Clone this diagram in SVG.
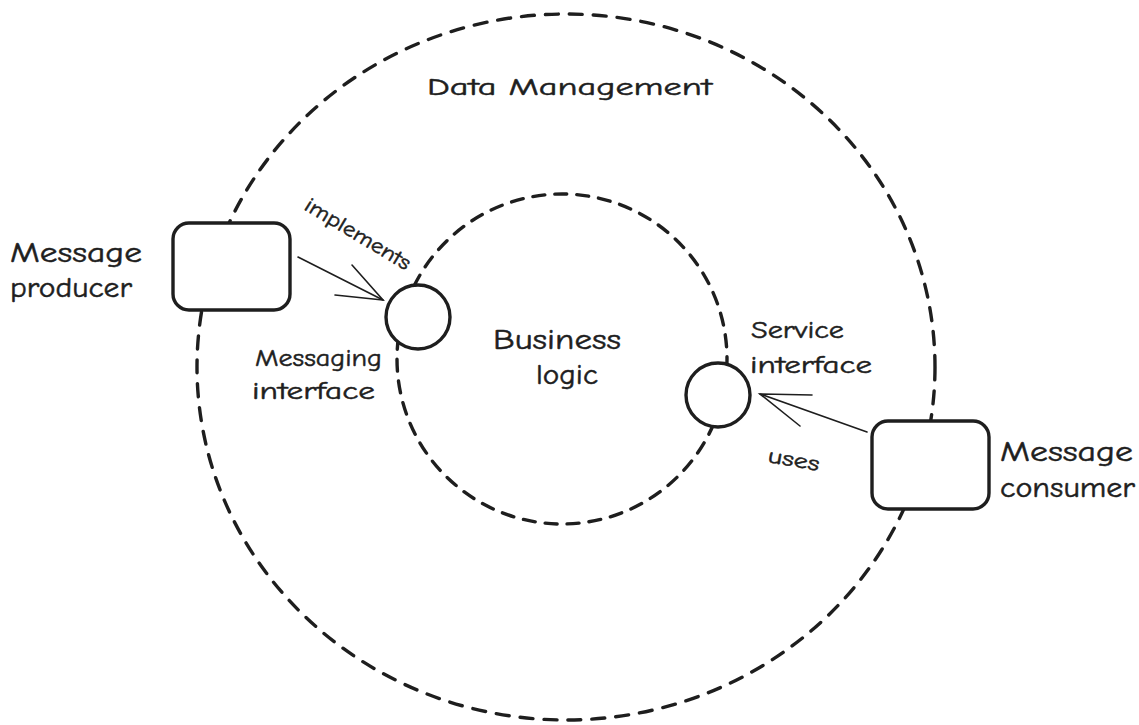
<svg xmlns="http://www.w3.org/2000/svg" width="1139" height="725" viewBox="0 0 1139 725">
  <style>
    .dash { fill: none; stroke: #1e1e1e; stroke-width: 3.4; stroke-linecap: round; }
    .outer { stroke-dasharray: 13 11; }
    .inner { stroke-dasharray: 12 10; }
    .shape { fill: #ffffff; stroke: #1e1e1e; stroke-width: 3.4; }
    .conn { fill: none; stroke: #1e1e1e; stroke-width: 1.6; stroke-linecap: round; }
    text { font-family: "Comic Neue", "Liberation Sans", "Noto Sans", sans-serif; fill: #1e1e1e; stroke: #1e1e1e; stroke-width: 0.5; }
    .big { font-size: 28px; }
    .mid { font-size: 25px; }
    .small { font-size: 21px; }
  </style>
  <rect width="1139" height="725" fill="#ffffff"/>

  <g id="data-management">
    <ellipse class="dash outer" cx="566" cy="367" rx="369" ry="353"/>
    <text class="mid" x="427" y="95" textLength="285" lengthAdjust="spacingAndGlyphs">Data Management</text>
  </g>

  <g id="business-logic">
    <circle class="dash inner" cx="562" cy="359" r="165"/>
    <text class="big" x="493" y="349" textLength="128" lengthAdjust="spacingAndGlyphs">Business</text>
    <text class="big" x="536" y="384" textLength="62" lengthAdjust="spacingAndGlyphs">logic</text>
  </g>

  <g id="message-producer">
    <rect class="shape" x="173" y="223" width="117" height="87" rx="16"/>
    <text class="big" x="10" y="262" textLength="132" lengthAdjust="spacingAndGlyphs">Message</text>
    <text class="big" x="10" y="297" textLength="122" lengthAdjust="spacingAndGlyphs">producer</text>
  </g>

  <g id="message-consumer">
    <rect class="shape" x="872" y="421" width="117" height="88" rx="16"/>
    <text class="big" x="1000" y="461" textLength="133" lengthAdjust="spacingAndGlyphs">Message</text>
    <text class="big" x="1000" y="497" textLength="135" lengthAdjust="spacingAndGlyphs">consumer</text>
  </g>

  <g id="messaging-interface">
    <circle class="shape" cx="418" cy="317" r="32" stroke-width="3.8"/>
    <text class="mid" x="255" y="366" textLength="127" lengthAdjust="spacingAndGlyphs">Messaging</text>
    <text class="mid" x="252" y="399" textLength="123" lengthAdjust="spacingAndGlyphs">interface</text>
  </g>

  <g id="service-interface">
    <circle class="shape" cx="718" cy="395" r="32" stroke-width="3.8"/>
    <text class="mid" x="751" y="338" textLength="93" lengthAdjust="spacingAndGlyphs">Service</text>
    <text class="mid" x="750" y="373" textLength="122" lengthAdjust="spacingAndGlyphs">interface</text>
  </g>

  <g id="connectors">
    <g id="implements">
      <path class="conn" d="M298 257 L383 300"/>
      <path class="conn" d="M352 265 L383 300 L335 295"/>
      <text class="small" transform="translate(303 209) rotate(31)" textLength="120" lengthAdjust="spacingAndGlyphs">implements</text>
    </g>
    <g id="uses">
      <path class="conn" d="M867 432 L760 394"/>
      <path class="conn" d="M812 395 L760 394 L800 426"/>
      <text class="small" transform="translate(767 462) rotate(10)" textLength="52" lengthAdjust="spacingAndGlyphs">uses</text>
    </g>
  </g>
</svg>
